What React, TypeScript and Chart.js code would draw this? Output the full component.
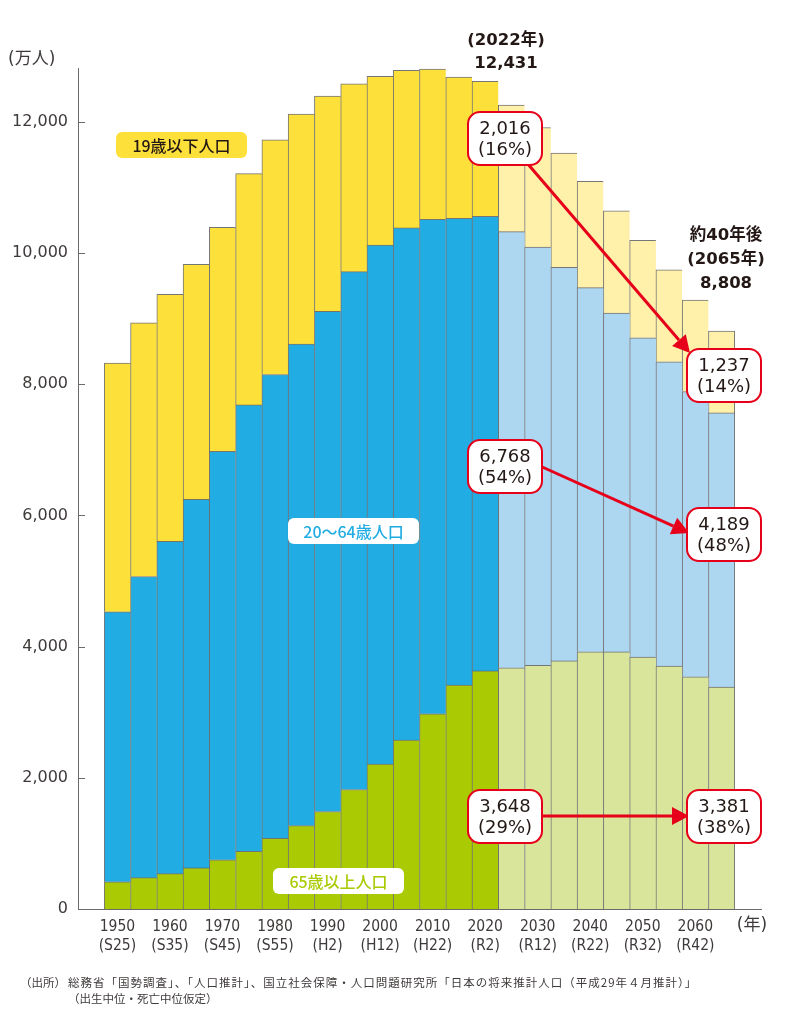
import React, { useEffect, useRef } from 'react';
import { Chart, registerables } from 'chart.js';

Chart.register(...registerables);

// ---- data (万人) ----
const years = [1950, 1955, 1960, 1965, 1970, 1975, 1980, 1985, 1990, 1995, 2000, 2005, 2010, 2015, 2020, 2025, 2030, 2035, 2040, 2045, 2050, 2055, 2060, 2065];
const age65plus = [416, 478, 539, 626, 750, 880, 1078, 1272, 1486, 1822, 2209, 2575, 2977, 3415, 3629, 3677, 3716, 3782, 3921, 3919, 3841, 3704, 3540, 3381];
const age20to64 = [4114, 4591, 5064, 5618, 6227, 6804, 7070, 7339, 7624, 7893, 7913, 7807, 7537, 7115, 6931, 6648, 6376, 5999, 5550, 5165, 4866, 4637, 4348, 4181];
const age0to19 = [3790, 3867, 3766, 3583, 3413, 3527, 3577, 3506, 3282, 2865, 2570, 2402, 2290, 2152, 2055, 1929, 1821, 1741, 1621, 1558, 1485, 1403, 1396, 1246];
const firstProjectedYear = 2025;

const decadeYears = [1950, 1960, 1970, 1980, 1990, 2000, 2010, 2020, 2030, 2040, 2050, 2060];
const decadeEras = ['(S25)', '(S35)', '(S45)', '(S55)', '(H2)', '(H12)', '(H22)', '(R2)', '(R12)', '(R22)', '(R32)', '(R42)'];
const yTickValues = [0, 2000, 4000, 6000, 8000, 10000, 12000];

const seriesNames = ['65歳以上人口', '20〜64歳人口', '19歳以下人口'];

const peakYearText = '(2022年)';
const peakValueText = '12,431';
const futureTexts = ['約40年後', '(2065年)', '8,808'];
const calloutValues = ['2,016', '1,237', '6,768', '4,189', '3,648', '3,381'];
const calloutShares = ['(16%)', '(14%)', '(54%)', '(48%)', '(29%)', '(38%)'];

const sourceLine1 = '総務省「国勢調査」、「人口推計」、国立社会保障・人口問題研究所「日本の将来推計人口（平成29年４月推計）」';
const sourceLine2 = '（出生中位・死亡中位仮定）';

// ---- styles ----
const solidColors = ['#AACB03', '#21ADE4', '#FEE03A'];
const lightColors = ['#D8E59A', '#ADD6F1', '#FFF0AA'];
const RED = '#E60019';
const TEXT = '#231815';
const NUM_FONT = "'DejaVu Sans', 'Noto Sans CJK JP', sans-serif";
const JP_FONT = "'Noto Sans CJK JP', sans-serif";

const labels = ['', ...years.map(String), ''];
const pad = (arr: number[]) => [null, ...arr, null];

function roundBox(ctx: CanvasRenderingContext2D, x: number, y: number, w: number, h: number, r: number, fill: string, stroke?: string, lw = 2) {
  ctx.beginPath();
  (ctx as any).roundRect(x, y, w, h, r);
  ctx.fillStyle = fill;
  ctx.fill();
  if (stroke) {
    ctx.lineWidth = lw;
    ctx.strokeStyle = stroke;
    ctx.stroke();
  }
}

function text(ctx: CanvasRenderingContext2D, s: string, x: number, y: number, font: string, color: string, align: CanvasTextAlign = 'center') {
  ctx.font = font;
  ctx.fillStyle = color;
  ctx.textAlign = align;
  ctx.textBaseline = 'middle';
  ctx.fillText(s, x, y);
}

function arrow(ctx: CanvasRenderingContext2D, x1: number, y1: number, x2: number, y2: number) {
  const a = Math.atan2(y2 - y1, x2 - x1);
  const hl = 17, hw = 9;
  const bx = x2 - hl * Math.cos(a), by = y2 - hl * Math.sin(a);
  ctx.strokeStyle = RED;
  ctx.lineWidth = 3;
  ctx.beginPath();
  ctx.moveTo(x1, y1);
  ctx.lineTo(bx, by);
  ctx.stroke();
  ctx.fillStyle = RED;
  ctx.beginPath();
  ctx.moveTo(x2, y2);
  ctx.lineTo(bx + hw * Math.sin(a), by - hw * Math.cos(a));
  ctx.lineTo(bx - hw * Math.sin(a), by + hw * Math.cos(a));
  ctx.closePath();
  ctx.fill();
}

const annotationPlugin = {
  id: 'annotations',
  afterDraw(chart: any) {
    const { ctx } = chart;
    const xs = chart.scales.x;
    const ys = chart.scales.y;
    ctx.save();

    // inward tick marks on the y axis
    ctx.strokeStyle = '#6a6a6a';
    ctx.lineWidth = 1;
    ys.ticks.forEach((t: any) => {
      const py = Math.round(ys.getPixelForValue(t.value)) + 0.5;
      ctx.beginPath();
      ctx.moveTo(xs.left, py);
      ctx.lineTo(xs.left + 7, py);
      ctx.stroke();
    });

    // axis unit labels
    text(ctx, '(万人)', 8, 60, `17px ${NUM_FONT}`, '#3e3a39', 'left');
    text(ctx, '(年)', 752, 926, `17px ${NUM_FONT}`, '#3e3a39', 'center');

    // headline texts
    text(ctx, peakYearText, 506, 41, `bold 16.5px ${NUM_FONT}`, TEXT);
    text(ctx, peakValueText, 506, 64, `bold 16.5px ${NUM_FONT}`, TEXT);
    text(ctx, futureTexts[0], 726, 236, `bold 16.5px ${NUM_FONT}`, TEXT);
    text(ctx, futureTexts[1], 726, 260, `bold 16.5px ${NUM_FONT}`, TEXT);
    text(ctx, futureTexts[2], 726, 284, `bold 16.5px ${NUM_FONT}`, TEXT);

    // series name pills
    roundBox(ctx, 116, 132, 131, 26, 6, solidColors[2]);
    text(ctx, seriesNames[2], 181.5, 145.5, `500 16px ${JP_FONT}`, TEXT);
    roundBox(ctx, 288, 518, 131, 26, 6, '#ffffff');
    text(ctx, seriesNames[1], 353.5, 531.5, `500 16px ${JP_FONT}`, solidColors[1]);
    roundBox(ctx, 273, 868, 131, 26, 6, '#ffffff');
    text(ctx, seriesNames[0], 338.5, 881.5, `500 16px ${JP_FONT}`, solidColors[0]);

    // arrows
    arrow(ctx, 527, 163, 690, 353);
    arrow(ctx, 540, 466, 689, 533);
    arrow(ctx, 540, 816, 689, 816);

    // callout boxes
    const boxes = [
      [468, 112], [687, 349],
      [468, 440], [687, 508],
      [468, 790], [687, 790],
    ];
    boxes.forEach(([bx, by], i) => {
      roundBox(ctx, bx, by, 74, 53, 12, '#ffffff', RED, 2);
      text(ctx, calloutValues[i], bx + 37, by + 17, `18px ${NUM_FONT}`, TEXT);
      text(ctx, calloutShares[i], bx + 37, by + 38, `18px ${NUM_FONT}`, TEXT);
    });

    // source note
    text(ctx, '（出所）', 20, 983, `11.5px ${JP_FONT}`, '#3e3a39', 'left');
    (ctx as any).letterSpacing = '1px';
    text(ctx, sourceLine1, 68, 983, `11.5px ${JP_FONT}`, '#3e3a39', 'left');
    (ctx as any).letterSpacing = '0px';
    text(ctx, sourceLine2, 68, 999, `11.5px ${JP_FONT}`, '#3e3a39', 'left');

    ctx.restore();
  },
};

export default function App() {
  const canvasRef = useRef<HTMLCanvasElement | null>(null);

  useEffect(() => {
    if (!canvasRef.current) return;
    const series = [age65plus, age20to64, age0to19];
    const lastIndex = years.length;
    const chart = new Chart(canvasRef.current, {
      type: 'bar',
      data: {
        labels,
        datasets: series.map((arr, si) => ({
          label: seriesNames[si],
          data: pad(arr),
          backgroundColor: (c: any) => {
            const yr = years[c.dataIndex - 1];
            return yr >= firstProjectedYear ? lightColors[si] : solidColors[si];
          },
          borderColor: 'rgba(60,60,60,0.7)',
          borderWidth: (c: any) => ({ top: 1, left: 1, right: c.dataIndex === lastIndex ? 1 : 0, bottom: 0 }),
          borderSkipped: false,
          categoryPercentage: 1,
          barPercentage: 1,
        })),
      },
      options: {
        responsive: false,
        maintainAspectRatio: false,
        devicePixelRatio: 1,
        animation: false,
        layout: { padding: { left: 0, right: 34, top: 68, bottom: 0 } },
        plugins: { legend: { display: false }, tooltip: { enabled: false }, title: { display: false } },
        scales: {
          x: {
            stacked: true,
            grid: { display: false, drawTicks: false },
            border: { display: true, color: '#6a6a6a', width: 1 },
            ticks: {
              autoSkip: false,
              maxRotation: 0,
              padding: 8,
              color: '#3e3a39',
              font: { family: "'DejaVu Sans Condensed', 'Liberation Sans Narrow', sans-serif", size: 15.5, lineHeight: 19 / 15.5 },
              callback: (_v: any, i: number) => {
                const yr = years[i - 1];
                const k = decadeYears.indexOf(yr);
                return k >= 0 ? [String(yr), decadeEras[k]] : '';
              },
            },
            afterFit: (scale: any) => { scale.height = 115; },
          },
          y: {
            stacked: true,
            min: 0,
            max: 12820,
            grid: { display: false, drawTicks: false },
            border: { display: true, color: '#6a6a6a', width: 1 },
            ticks: {
              stepSize: 2000,
              padding: 10,
              color: '#3e3a39',
              font: { family: "'DejaVu Sans', sans-serif", size: 16 },
              callback: (v: any) => Number(v).toLocaleString('en-US'),
            },
            afterBuildTicks: (scale: any) => {
              scale.ticks = yTickValues.map((value) => ({ value }));
            },
            afterFit: (scale: any) => { scale.width = 78; },
          },
        },
      },
      plugins: [annotationPlugin],
    } as any);
    return () => chart.destroy();
  }, []);

  return (
    <div style={{ position: 'absolute', left: 0, top: 0, width: 795, height: 1024, background: '#ffffff' }}>
      <canvas ref={canvasRef} width={795} height={1024} style={{ display: 'block' }} />
    </div>
  );
}
